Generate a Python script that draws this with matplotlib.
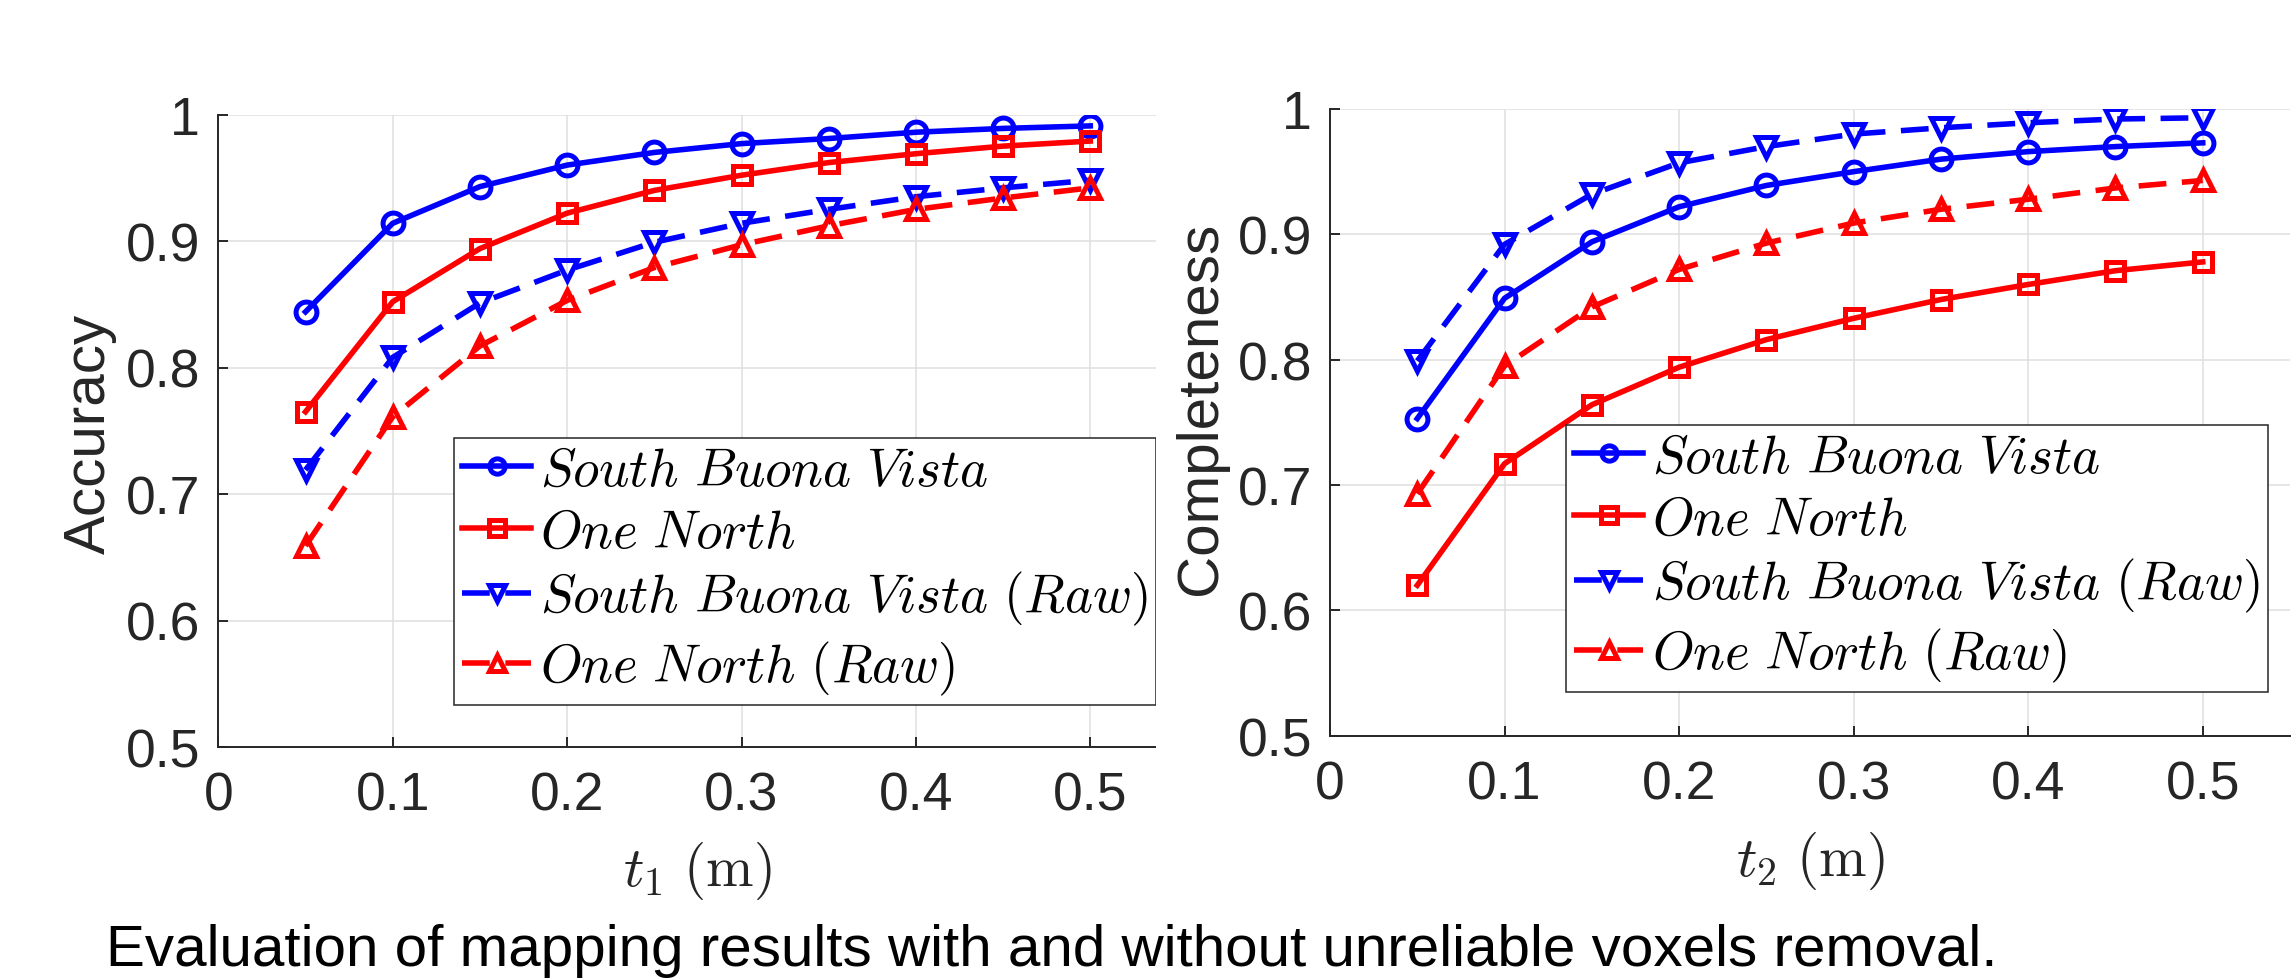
import matplotlib
matplotlib.use("Agg")
import matplotlib.pyplot as plt
from matplotlib.patches import Rectangle

plt.rcParams["mathtext.fontset"] = "cm"
plt.rcParams["font.family"] = ["Liberation Sans", "DejaVu Sans"]

# thresholds (m)
T = [0.05, 0.10, 0.15, 0.20, 0.25, 0.30, 0.35, 0.40, 0.45, 0.50]

# accuracy vs t1
acc_sbv = [0.844, 0.914, 0.943, 0.960, 0.970, 0.977, 0.981, 0.986, 0.989, 0.991]
acc_on = [0.765, 0.852, 0.894, 0.922, 0.940, 0.952, 0.962, 0.969, 0.975, 0.979]
acc_sbv_raw = [0.719, 0.808, 0.851, 0.877, 0.899, 0.914, 0.925, 0.935, 0.942, 0.948]
acc_on_raw = [0.659, 0.761, 0.817, 0.853, 0.879, 0.897, 0.912, 0.925, 0.934, 0.942]

# completeness vs t2
comp_sbv = [0.753, 0.849, 0.894, 0.922, 0.939, 0.950, 0.960, 0.966, 0.970, 0.973]
comp_on = [0.620, 0.717, 0.764, 0.794, 0.816, 0.833, 0.848, 0.860, 0.871, 0.878]
comp_sbv_raw = [0.799, 0.892, 0.932, 0.957, 0.970, 0.980, 0.985, 0.989, 0.992, 0.993]
comp_on_raw = [0.693, 0.795, 0.842, 0.872, 0.893, 0.909, 0.920, 0.928, 0.937, 0.943]

labels = [r"$\mathit{South\ Buona\ Vista}$", r"$\mathit{One\ North}$",
          r"$\mathit{South\ Buona\ Vista\ (Raw)}$", r"$\mathit{One\ North\ (Raw)}$"]
xticks = [0, 0.1, 0.2, 0.3, 0.4, 0.5]
yticks = [0.5, 0.6, 0.7, 0.8, 0.9, 1.0]
ytick_labels = ["0.5", "0.6", "0.7", "0.8", "0.9", "1"]
xtick_labels = ["0", "0.1", "0.2", "0.3", "0.4", "0.5"]

W, H = 2296, 979
DARK = "#262626"
BLUE = "#0000ff"
RED = "#ff0000"

fig = plt.figure(figsize=(W / 100, H / 100), dpi=100)
ax1 = fig.add_axes([218.3 / W, 1 - 748 / H, 959.2 / W, 632.5 / H])
ax2 = fig.add_axes([1330 / W, 1 - 736.7 / H, 960 / W, 626.7 / H])
ax1.set_zorder(1)
ax2.set_zorder(3)

dash = (0, (5, 2.8))
styles = [
    dict(color=BLUE, marker="o", ls="-"),
    dict(color=RED, marker="s", ls="-"),
    dict(color=BLUE, marker="v", ls=dash),
    dict(color=RED, marker="^", ls=dash),
]
msizes = [15, 13, 15, 15]


def draw(ax, series, xlabel, ylabel, legend_xy, ylab_xy, xlab_y):
    for ys, st, lab, ms in zip(series, styles, labels, msizes):
        ax.plot(T, ys, lw=4, ms=ms, mew=3.6, mfc="none", label=lab, **st)
    ax.set_xlim(0, 0.55)
    ax.set_ylim(0.5, 1.0)
    ax.set_xticks(xticks)
    ax.set_xticklabels(xtick_labels)
    ax.set_yticks(yticks)
    ax.set_yticklabels(ytick_labels)
    ax.grid(True, color="#dfdfdf", lw=1.1)
    ax.set_axisbelow(True)
    for s in ["top", "right"]:
        ax.spines[s].set_visible(False)
    for s in ["left", "bottom"]:
        ax.spines[s].set_color(DARK)
        ax.spines[s].set_linewidth(1.4)
    ax.tick_params(direction="in", length=7, width=1.4, color=DARK,
                   labelcolor=DARK, labelsize=38.5)
    ax.tick_params(axis="y", pad=13)
    ax.tick_params(axis="x", pad=17)
    ax.set_xlabel(xlabel, fontsize=41, color=DARK)
    ax.xaxis.set_label_coords(0.5, xlab_y)
    ax.set_ylabel(ylabel, fontsize=42, color=DARK)
    ax.yaxis.set_label_coords(*ylab_xy)
    leg = ax.legend(loc="upper left", bbox_to_anchor=legend_xy,
                    bbox_transform=fig.transFigure, borderaxespad=0,
                    fontsize=38.3, numpoints=1, handlelength=1.3,
                    handletextpad=0.17, borderpad=0.15, labelspacing=0.22,
                    fancybox=False, framealpha=1, edgecolor=DARK)
    leg.get_frame().set_linewidth(1.1)
    for h in leg.legend_handles:
        h.set_markersize(11)


draw(ax1, [acc_sbv, acc_on, acc_sbv_raw, acc_on_raw], r"$t_1\ \mathrm{(m)}$",
     "Accuracy", (454 / W, 1 - 439 / H), (-0.1056, 0.496), -0.145)
draw(ax2, [comp_sbv, comp_on, comp_sbv_raw, comp_on_raw], r"$t_2\ \mathrm{(m)}$",
     "Completeness", (1566 / W, 1 - 426 / H), (-0.106, 0.5245), -0.149)

# the left panel is cropped on its right side in the original
fig.patches.append(Rectangle((1156 / W, 1 - 770 / H), 26 / W, 770 / H,
                             transform=fig.transFigure, facecolor="white",
                             edgecolor="none", zorder=2))

fig.text(1051.5 / W, 13 / H,
         "Evaluation of mapping results with and without unreliable voxels removal.",
         ha="center", va="baseline", fontsize=42, color="black")

fig.savefig("out.png", dpi=100)
